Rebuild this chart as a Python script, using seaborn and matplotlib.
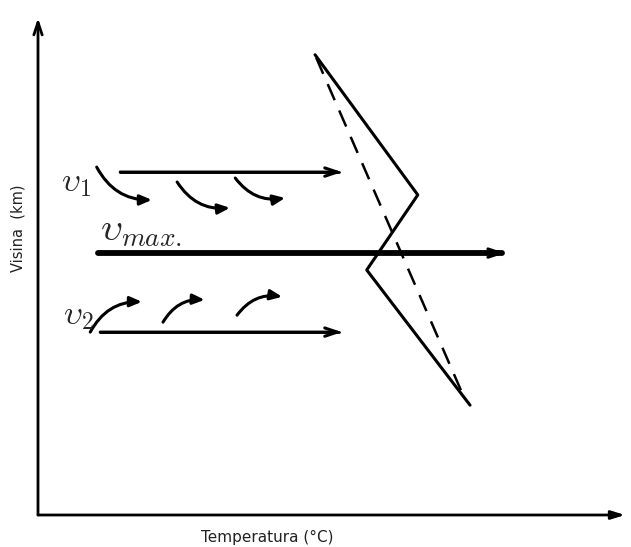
import pandas as pd
import matplotlib.pyplot as plt
import seaborn as sns

# temperature profile (solid) and dry adiabat (dashed), axis units 0-100
profile_t = [47.2, 64.7, 56.0, 73.6]
profile_h = [92.6, 64.4, 49.3, 22.1]
dashed_t = [47.4, 72.2]
dashed_h = [92.0, 24.7]

# wind arrows: start x, end x, height
wind_names = ["v1", "vmax", "v2"]
wind_x0 = [14.0, 10.2, 10.6]
wind_x1 = [51.8, 79.6, 51.8]
wind_h = [69.0, 52.7, 36.8]
wind_lw = [2.0, 4.2, 2.0]

# small curved arrows (x0, y0, x1, y1)
curl_v1 = [(10.0, 70.0, 19.4, 63.4), (23.7, 67.0, 32.7, 61.8), (33.6, 67.8, 42.1, 63.8)]
curl_v2 = [(8.9, 36.8, 17.7, 42.9), (21.3, 38.8, 28.4, 43.3), (33.9, 40.2, 41.6, 43.9)]

sns.set_style("white")
plt.rcParams["mathtext.fontset"] = "cm"
fig = plt.figure(figsize=(6.31, 5.47), dpi=100)
ax = fig.add_axes([38 / 631, 32 / 547, 587 / 631, 497 / 547])
ax.set_xlim(0, 100)
ax.set_ylim(0, 100)
ax.axis("off")

# axes as arrows
ax.annotate("", xy=(100, 0), xytext=(0, 0),
            arrowprops=dict(arrowstyle="-|>,head_length=0.8,head_width=0.25", lw=2, color="black",
                            shrinkA=0, shrinkB=0), annotation_clip=False)
ax.annotate("", xy=(0, 100), xytext=(0, 0),
            arrowprops=dict(arrowstyle="->,head_length=0.9,head_width=0.3", lw=2, color="black",
                            shrinkA=0, shrinkB=0), annotation_clip=False)

df = pd.DataFrame({"t": profile_t, "h": profile_h})
sns.lineplot(data=df, x="t", y="h", sort=False, color="black", lw=2.2, ax=ax)
dd = pd.DataFrame({"t": dashed_t, "h": dashed_h})
sns.lineplot(data=dd, x="t", y="h", sort=False, color="black", lw=1.8, ax=ax,
             linestyle=(0, (7, 4.5)))

for x0, x1, h, lw in zip(wind_x0, wind_x1, wind_h, wind_lw):
    shaft = pd.DataFrame({"t": [x0, x1 - 0.5], "h": [h, h]})
    sns.lineplot(data=shaft, x="t", y="h", color="black", lw=lw, ax=ax)
    ax.annotate("", xy=(x1, h), xytext=(x0, h),
                arrowprops=dict(arrowstyle="->,head_length=0.9,head_width=0.3", lw=2.2,
                                color="black", shrinkA=0, shrinkB=0))

for x0, y0, x1, y1 in curl_v1:
    ax.annotate("", xy=(x1, y1), xytext=(x0, y0),
                arrowprops=dict(arrowstyle="-|>,head_length=0.7,head_width=0.3", lw=2.2,
                                color="black", shrinkA=0, shrinkB=0,
                                connectionstyle="arc3,rad=0.3"))
for x0, y0, x1, y1 in curl_v2:
    ax.annotate("", xy=(x1, y1), xytext=(x0, y0),
                arrowprops=dict(arrowstyle="-|>,head_length=0.7,head_width=0.3", lw=2.2,
                                color="black", shrinkA=0, shrinkB=0,
                                connectionstyle="arc3,rad=-0.3"))

ax.text(4.0, 67.0, r"$\upsilon_1$", fontsize=24, ha="left", va="center")
ax.text(10.5, 53.6, r"$\upsilon_{max.}$", fontsize=28, ha="left", va="bottom")
ax.text(4.3, 40.2, r"$\upsilon_2$", fontsize=24, ha="left", va="center")

fig.text(267 / 631, 1 - 537 / 547, "Temperatura (°C)", fontsize=11, ha="center", va="center",
         color="#222222")
fig.text(18 / 631, 1 - 228 / 547, "Visina  (km)", fontsize=10.5, ha="center", va="center",
         rotation=90, color="#222222")

fig.savefig("out.png", dpi=100)
